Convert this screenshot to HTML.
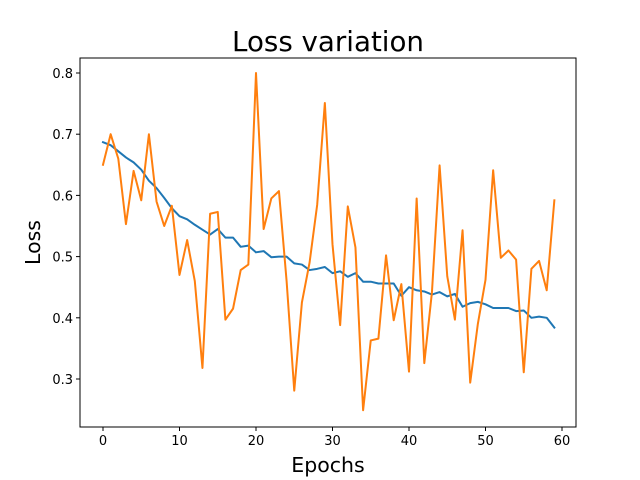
<!DOCTYPE html>
<html><head><meta charset="utf-8"><style>body{margin:0;background:#fff}svg{display:block;font-family:"DejaVu Sans","Liberation Sans",sans-serif}</style></head>
<body>
<svg id="chart" width="640" height="480"></svg>
<script>
const epochs = Array.from({length:60},(_, i)=>i);
const trainLoss = [0.687,0.682,0.672,0.662,0.654,0.642,0.624,0.612,0.596,0.579,0.566,0.561,0.552,0.544,0.536,0.545,0.531,0.531,0.516,0.518,0.507,0.509,0.499,0.5,0.5,0.489,0.487,0.478,0.48,0.483,0.473,0.476,0.467,0.473,0.459,0.459,0.456,0.456,0.456,0.436,0.45,0.445,0.443,0.438,0.442,0.435,0.439,0.418,0.424,0.426,0.422,0.416,0.416,0.416,0.411,0.412,0.4,0.402,0.4,0.384];
const valLoss = [0.65,0.70,0.66,0.553,0.64,0.592,0.70,0.59,0.55,0.583,0.47,0.527,0.46,0.318,0.57,0.573,0.397,0.415,0.478,0.487,0.80,0.545,0.595,0.607,0.46,0.281,0.425,0.49,0.585,0.751,0.52,0.388,0.582,0.515,0.249,0.363,0.366,0.502,0.396,0.455,0.312,0.595,0.326,0.442,0.649,0.468,0.397,0.543,0.294,0.39,0.462,0.641,0.498,0.51,0.495,0.311,0.48,0.493,0.445,0.592];
const xTicks = [0,10,20,30,40,50,60];
const yTicks = [0.3,0.4,0.5,0.6,0.7,0.8];

const L=80,R=576,T=58,B=427;
const x=v=>103+(v-0)*(562-103)/60;
const y=v=>379-(v-0.3)*(379-73)/0.5;
const NS="http://www.w3.org/2000/svg";
const svg=document.getElementById('chart');
function mk(tag,attrs,parent){const e=document.createElementNS(NS,tag);for(const k in attrs)e.setAttribute(k,attrs[k]);(parent||svg).appendChild(e);return e;}

const title=mk('text',{x:(L+R)/2,y:51,'text-anchor':'middle','font-size':27.7,fill:'#000'});title.textContent='Loss variation';



function line(data,color,name){
  const p=mk('polyline',{points:data.map((v,i)=>x(epochs[i])+','+y(v)).join(' '),fill:'none',stroke:color,'stroke-width':2,'stroke-linejoin':'round','stroke-linecap':'square'});
  
  
}
line(trainLoss,'#1f77b4','train-loss-line');
line(valLoss,'#ff7f0e','val-loss-line');

const frame=mk('rect',{x:L,y:T,width:R-L,height:B-T,fill:'none',stroke:'#000','stroke-width':1});



xTicks.forEach(t=>{
  const g=mk('g',{});
  
  
  mk('line',{x1:x(t),x2:x(t),y1:B,y2:B+4,stroke:'#000'},g);
  const tx=mk('text',{x:x(t),y:B+18,'text-anchor':'middle','font-size':13},g);tx.textContent=t;
});
yTicks.forEach(t=>{
  const g=mk('g',{});
  
  
  mk('line',{x1:L-4,x2:L,y1:y(t),y2:y(t),stroke:'#000'},g);
  const tx=mk('text',{x:L-7,y:y(t)+5,'text-anchor':'end','font-size':13},g);tx.textContent=t.toFixed(1);
});
const xl=mk('text',{x:(L+R)/2,y:472,'text-anchor':'middle','font-size':20.5});xl.textContent='Epochs';


const yl=mk('text',{x:0,y:0,'text-anchor':'middle','font-size':20.5,transform:'translate(40,'+((T+B)/2)+') rotate(-90)'});yl.textContent='Loss';


</script>
</body></html>
